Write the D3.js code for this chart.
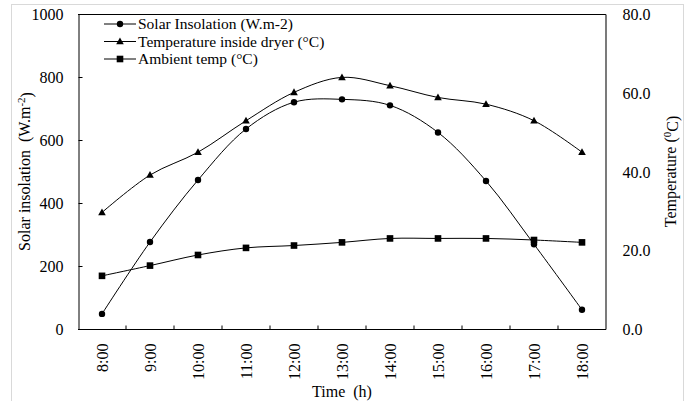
<!DOCTYPE html>
<html><head><meta charset="utf-8">
<script src="https://cdn.jsdelivr.net/npm/d3@7/dist/d3.min.js"></script>
<style>body{margin:0;background:#fff}svg{display:block}svg text{font-family:"Liberation Serif","Times New Roman",Tinos,"DejaVu Serif",serif !important;fill:#000}</style>
</head><body>
<svg id="c" width="690" height="401"></svg>
<script>
const times = ["8:00","9:00","10:00","11:00","12:00","13:00","14:00","15:00","16:00","17:00","18:00"];
const solar = [48, 276, 473, 635, 720, 729, 710, 624, 470, 269, 61];
const dryerTemp = [29.6, 39.1, 44.9, 52.9, 60.1, 63.9, 61.8, 58.8, 57.1, 52.9, 44.9];
const ambientTemp = [13.5, 16.1, 18.8, 20.6, 21.2, 22.0, 23.0, 23.0, 23.0, 22.6, 22.0];
const leftTicks = [0, 200, 400, 600, 800, 1000];
const rightTicks = [0, 20, 40, 60, 80];

const FONT = '"Liberation Serif","Times New Roman",Tinos,"DejaVu Serif",serif';
const svg = d3.select("#c").attr("font-family", FONT);
const L = 78, R = 606, T = 14, B = 329;

svg.append("rect").attr("x",11.5).attr("y",4.5).attr("width",672).attr("height",420)
  .attr("fill","none").attr("stroke","#d9d9d9").attr("stroke-width",1);

const x = d3.scaleBand().domain(times).range([L, R]);
const cx = d => x(d) + x.bandwidth()/2;
const yL = d3.scaleLinear().domain([0,1000]).range([B, T]);
const yR = d3.scaleLinear().domain([0,80]).range([B, T]);

svg.append("line").attr("x1",L).attr("x2",R).attr("y1",T+0.5).attr("y2",T+0.5).attr("stroke","#000");

// left axis
const axL = d3.axisLeft(yL).tickValues(leftTicks).tickSize(-4).tickPadding(15).tickFormat(d3.format("d"));
const gL = svg.append("g").attr("transform",`translate(${L+0.5},0)`).call(axL).attr("font-family", FONT).attr("font-size",16);
gL.select(".domain").attr("stroke","#000");
gL.selectAll(".tick line").attr("stroke","#000");
gL.selectAll(".tick text").attr("fill","#000").attr("dy","0.35em");

// right axis
const axR = d3.axisRight(yR).tickValues(rightTicks).tickSize(0).tickPadding(17).tickFormat(d3.format(".1f"));
const gR = svg.append("g").attr("transform",`translate(${R-0.5},0)`).call(axR).attr("font-family", FONT).attr("font-size",16);
gR.select(".domain").attr("stroke","#333").attr("stroke-width",1.3);
gR.selectAll(".tick text").attr("fill","#000").attr("dy","0.35em");

// bottom axis
const gB = svg.append("g").attr("transform",`translate(0,${B+0.5})`);
gB.append("line").attr("x1",L).attr("x2",R).attr("stroke","#000");
gB.selectAll("line.tk").data(times.slice(1)).enter().append("line").attr("class","tk")
  .attr("x1",d=>x(d)).attr("x2",d=>x(d)).attr("y1",0).attr("y2",-4).attr("stroke","#000");
gB.selectAll("text").data(times).enter().append("text")
  .attr("transform",d=>`translate(${cx(d)},14) rotate(-90)`)
  .attr("text-anchor","end").attr("dy","0.35em").attr("font-size",16).text(d=>d);

// axis titles
const lt = svg.append("text").attr("transform",`translate(24,${(T+B)/2}) rotate(-90)`)
  .attr("text-anchor","middle").attr("dy","0.35em").attr("font-size",16).attr("xml:space","preserve");
lt.append("tspan").text("Solar insolation  (W.m");
lt.append("tspan").attr("dy","-0.45em").attr("font-size",11).text("-2");
lt.append("tspan").attr("dy","0.45em").text(")");

const rt = svg.append("text").attr("transform",`translate(670,${(T+B)/2}) rotate(-90)`)
  .attr("text-anchor","middle").attr("dy","0.35em").attr("font-size",16);
rt.append("tspan").text("Temperature (");
rt.append("tspan").attr("dy","-0.45em").attr("font-size",11).text("0");
rt.append("tspan").attr("dy","0.45em").text("C)");

svg.append("text").attr("x",(L+R)/2).attr("y",391).attr("text-anchor","middle").attr("dy","0.35em")
  .attr("font-size",16).attr("xml:space","preserve").text("Time  (h)");

// series
const curve = d3.curveCatmullRom.alpha(0.5);
function drawMarker(px,py,marker){
  if(marker==="circle") svg.append("circle").attr("cx",px).attr("cy",py).attr("r",3.2).attr("fill","#000");
  else if(marker==="triangle") svg.append("path").attr("d",`M${px},${py-4}L${px+3.8},${py+2.8}L${px-3.8},${py+2.8}Z`).attr("fill","#000");
  else svg.append("rect").attr("x",px-3.3).attr("y",py-3.3).attr("width",6.6).attr("height",6.6).attr("fill","#000");
}
function series(vals, yScale, marker){
  const pts = vals.map((v,i)=>[cx(times[i]), yScale(v)]);
  svg.append("path").attr("d", d3.line().curve(curve)(pts)).attr("fill","none").attr("stroke","#000").attr("stroke-width",1);
  pts.forEach(p=>drawMarker(p[0],p[1],marker));
}
series(solar, yL, "circle");
series(dryerTemp, yR, "triangle");
series(ambientTemp, yR, "square");

// legend
const legend = [["Solar Insolation (W.m-2)","circle"],["Temperature inside dryer (°C)","triangle"],["Ambient temp (°C)","square"]];
legend.forEach((d,i)=>{
  const ly = 24 + i*17.5;
  svg.append("line").attr("x1",104).attr("x2",136).attr("y1",ly).attr("y2",ly).attr("stroke","#000");
  drawMarker(120, ly, d[1]);
  svg.append("text").attr("x",138).attr("y",ly).attr("dy","0.35em").attr("font-size",15.5).text(d[0]);
});
</script>
</body></html>
